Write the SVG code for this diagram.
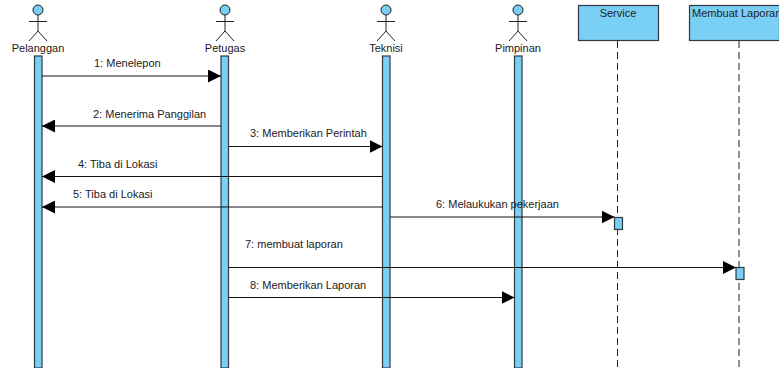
<svg xmlns="http://www.w3.org/2000/svg" width="779" height="368" viewBox="0 0 779 368">
<style>
text{font-family:"Liberation Sans",Arial,sans-serif;font-size:11px;fill:#222}
.c{text-anchor:middle}
.act{fill:#7ACFF5;stroke:#2f3a40;stroke-width:1.2}
.fig{fill:none;stroke:#222;stroke-width:1}
.head{fill:#7ACFF5;stroke:#222;stroke-width:1}
.msg{stroke:#111;stroke-width:1;fill:none}
.life{stroke:#222;stroke-width:1;stroke-dasharray:7 4;fill:none}
</style>
<defs>
<marker id="arr" viewBox="0 0 13 13" refX="13" refY="6.500" markerWidth="13" markerHeight="13" markerUnits="userSpaceOnUse" orient="auto"><path d="M0 0L13 6.500L0 13Z" fill="#000"/></marker>
<g id="actor"><circle class="head" cx="0" cy="10" r="5"/><path class="fig" d="M0 15V31M-9 21.500H9M0 31L-9 41M0 31L9 41"/></g>
</defs>
<g id="node-pelanggan"><use href="#actor" x="38"/><text class="c" x="38" y="52">Pelanggan</text><rect class="act" x="34.500" y="56" width="7.500" height="312"/></g>
<g id="node-petugas"><use href="#actor" x="225"/><text class="c" x="225" y="52">Petugas</text><rect class="act" x="221" y="56" width="7.500" height="312"/></g>
<g id="node-teknisi"><use href="#actor" x="386"/><text class="c" x="386" y="52">Teknisi</text><rect class="act" x="382.500" y="56" width="7.500" height="312"/></g>
<g id="node-pimpinan"><use href="#actor" x="518"/><text class="c" x="518" y="52">Pimpinan</text><rect class="act" x="514.500" y="56" width="7.500" height="312"/></g>
<g id="node-service"><rect class="act" x="578.500" y="5.500" width="80" height="35"/><text class="c" x="618" y="17">Service</text><path class="life" d="M617.500 41V368"/><rect class="act" x="614.500" y="217.500" width="8" height="12"/></g>
<g id="node-laporan"><rect class="act" x="689.500" y="5.500" width="90" height="35"/><text x="692" y="17">Membuat Laporan</text><path class="life" d="M739 41V368"/><rect class="act" x="736" y="267.500" width="8" height="12"/></g>
<g id="connectors">
<path class="msg" marker-end="url(#arr)" d="M42 76H221"/>
<path class="msg" marker-end="url(#arr)" d="M221 126H42"/>
<path class="msg" marker-end="url(#arr)" d="M228.500 146.500H382.500"/>
<path class="msg" marker-end="url(#arr)" d="M382.500 176.500H42"/>
<path class="msg" marker-end="url(#arr)" d="M382.500 207H42"/>
<path class="msg" marker-end="url(#arr)" d="M390 217H614.500"/>
<path class="msg" marker-end="url(#arr)" d="M228.500 267.500H736"/>
<path class="msg" marker-end="url(#arr)" d="M228.500 297.500H514.500"/>
<text x="94" y="67">1: Menelepon</text>
<text x="93" y="118">2: Menerima Panggilan</text>
<text x="250" y="137">3: Memberikan Perintah</text>
<text x="78" y="168">4: Tiba di Lokasi</text>
<text x="73" y="198">5: Tiba di Lokasi</text>
<text x="436" y="208">6: Melaukukan pekerjaan</text>
<text x="245" y="248">7: membuat laporan</text>
<text x="250" y="289">8: Memberikan Laporan</text>
</g>
</svg>
